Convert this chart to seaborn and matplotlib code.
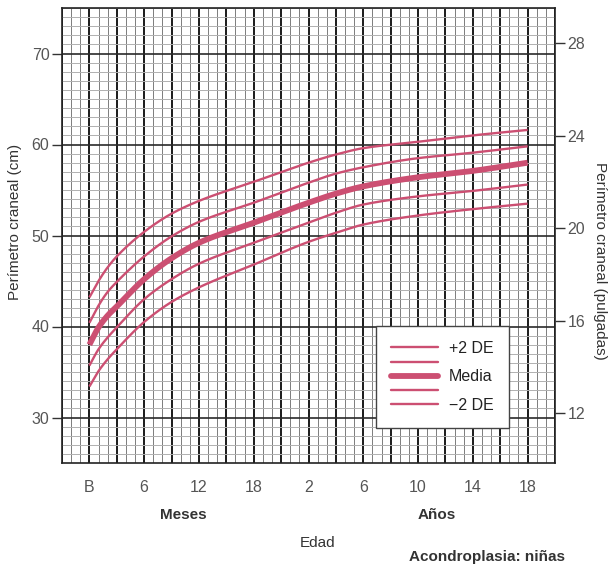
import numpy as np
import pandas as pd
import matplotlib
matplotlib.use("Agg")
import matplotlib.pyplot as plt
from matplotlib.ticker import MultipleLocator, FixedLocator, FuncFormatter
from matplotlib.lines import Line2D
import seaborn as sns

# Age axis: months up to 2 years (one step = 6 months), then years (one step = 4 years)
age_months = [0, 1, 2, 3, 6, 9, 12, 18, 24, 48, 72, 120, 168, 216]
tick_labels = ["B", "6", "12", "18", "2", "6", "10", "14", "18"]

# Head circumference (cm), achondroplasia, girls
plus2 = [43.2, 45.0, 46.5, 47.7, 50.4, 52.4, 53.8, 55.9, 58.0, 58.9, 59.6, 60.3, 61.0, 61.6]
plus1 = [40.4, 42.3, 43.8, 44.9, 47.7, 49.9, 51.5, 53.6, 55.8, 56.8, 57.5, 58.5, 59.1, 59.8]
mean = [38.0, 39.9, 41.2, 42.2, 45.2, 47.5, 49.2, 51.4, 53.6, 54.6, 55.4, 56.4, 57.1, 58.0]
minus1 = [35.7, 37.5, 38.8, 39.9, 43.0, 45.2, 46.9, 49.2, 51.4, 52.5, 53.4, 54.3, 54.9, 55.6]
minus2 = [33.4, 35.1, 36.4, 37.5, 40.5, 42.7, 44.3, 46.8, 49.3, 50.3, 51.2, 52.2, 52.9, 53.5]


def axis_position(m):
    """Map age in months onto the chart's piecewise age scale."""
    if m <= 24:
        return m / 6.0
    return 4.0 + (m / 12.0 - 2.0) / 4.0


def pchip(x, y, xs):
    """Shape-preserving cubic through the given points (for a smooth drawn curve)."""
    x = np.asarray(x, float)
    y = np.asarray(y, float)
    h = np.diff(x)
    d = np.diff(y) / h
    m = np.zeros_like(y)
    for k in range(1, len(x) - 1):
        if d[k - 1] * d[k] > 0:
            w1 = 2 * h[k] + h[k - 1]
            w2 = h[k] + 2 * h[k - 1]
            m[k] = (w1 + w2) / (w1 / d[k - 1] + w2 / d[k])
    m[0] = d[0]
    m[-1] = d[-1]
    idx = np.clip(np.searchsorted(x, xs) - 1, 0, len(h) - 1)
    t = (xs - x[idx]) / h[idx]
    h00 = 2 * t**3 - 3 * t**2 + 1
    h10 = t**3 - 2 * t**2 + t
    h01 = -2 * t**3 + 3 * t**2
    h11 = t**3 - t**2
    return (h00 * y[idx] + h10 * h[idx] * m[idx]
            + h01 * y[idx + 1] + h11 * h[idx] * m[idx + 1])


pos = [axis_position(m) for m in age_months]
series = [("+2 DE", plus2, 1.7), ("+1 DE", plus1, 1.7), ("Media", mean, 4.2),
          ("-1 DE", minus1, 1.7), ("-2 DE", minus2, 1.7)]
xs = np.linspace(pos[0], pos[-1], 500)
frames = [pd.DataFrame({"pos": xs, "cm": pchip(pos, vals, xs), "curva": name})
          for name, vals, _ in series]
df = pd.concat(frames, ignore_index=True)

sns.set_style("white")
plt.rcParams["font.family"] = ["Liberation Sans", "DejaVu Sans"]

line_color = "#cc4f72"
tick_color = "#555555"

fig = plt.figure(figsize=(6.11, 5.66), dpi=100)
ax = fig.add_axes([62 / 611, 1 - 463 / 566, (555 - 62) / 611, (463 - 8) / 566])

ax.set_xlim(-0.5, 8.5)
ax.set_ylim(25, 75)

# Graph-paper grid
ax.xaxis.set_major_locator(MultipleLocator(0.5))
ax.xaxis.set_minor_locator(MultipleLocator(1 / 6))
ax.yaxis.set_major_locator(FixedLocator([30, 40, 50, 60, 70]))
ax.yaxis.set_minor_locator(MultipleLocator(1))
ax.grid(which="minor", axis="x", color="#7c7c7c", lw=0.7)
ax.grid(which="minor", axis="y", color="#b0b0b0", lw=0.7)
ax.grid(which="major", axis="x", color="#1a1a1a", lw=1.4)
ax.grid(which="major", axis="y", color="#2a2a2a", lw=1.2)
ax.set_axisbelow(True)


def xfmt(v, _):
    k = int(round(v))
    if abs(v - k) < 1e-6 and 0 <= k < len(tick_labels):
        return tick_labels[k]
    return ""


ax.xaxis.set_major_formatter(FuncFormatter(xfmt))
ax.tick_params(axis="x", which="both", length=0, pad=12, labelsize=11.5, labelcolor=tick_color)
ax.tick_params(axis="y", which="major", length=7, width=1, color="#333333",
               labelsize=11.5, labelcolor=tick_color, pad=2)
ax.tick_params(axis="y", which="minor", length=0)

for name, vals, lw in series:
    sns.lineplot(data=df[df["curva"] == name], x="pos", y="cm", ax=ax,
                 color=line_color, lw=lw, legend=False, solid_capstyle="butt")

ax.set_xlabel("")
ax.set_ylabel("")

for s in ax.spines.values():
    s.set_color("#222222")
    s.set_linewidth(1.2)

# Inches on the right
ax2 = ax.twinx()
ax2.set_ylim(25 / 2.54, 75 / 2.54)
ax2.set_yticks([12, 16, 20, 24, 28])
ax2.tick_params(axis="y", length=7, width=1, color="#333333", labelsize=11.5,
                labelcolor=tick_color, pad=2)
ax2.grid(False)
for s in ax2.spines.values():
    s.set_visible(False)

# Legend
handles = [Line2D([], [], color=line_color, lw=lw) for _, _, lw in series]
labels = ["+2 DE", "", "Media", "", "\u22122 DE"]
leg = ax.legend(handles, labels, loc="lower left", bbox_to_anchor=(0.637, 0.077),
                fontsize=11.5, frameon=True, fancybox=False, handlelength=2.9,
                handletextpad=0.7, labelspacing=-0.05, borderpad=0.95,
                borderaxespad=0, framealpha=1)
leg.get_frame().set_edgecolor("#444444")
leg.get_frame().set_linewidth(1.0)
for t in leg.get_texts():
    t.set_color("#222222")

# Labels
fig.text(15 / 611, 1 - 222 / 566, "Perímetro craneal (cm)", rotation=90,
         ha="center", va="center", fontsize=11, color="#333333")
fig.text(600 / 611, 1 - 261 / 566, "Perímetro craneal (pulgadas)", rotation=-90,
         ha="center", va="center", fontsize=11, color="#333333")
fig.text(183 / 611, 1 - 515 / 566, "Meses", ha="center", va="center",
         fontsize=11, fontweight="bold", color="#333333")
fig.text(437 / 611, 1 - 515 / 566, "Años", ha="center", va="center",
         fontsize=11, fontweight="bold", color="#333333")
fig.text(318 / 611, 1 - 543 / 566, "Edad", ha="center", va="center",
         fontsize=11, color="#333333")
fig.text(487 / 611, 1 - 557 / 566, "Acondroplasia: niñas", ha="center", va="center",
         fontsize=11, fontweight="bold", color="#333333")

fig.savefig("out.png", dpi=100)
